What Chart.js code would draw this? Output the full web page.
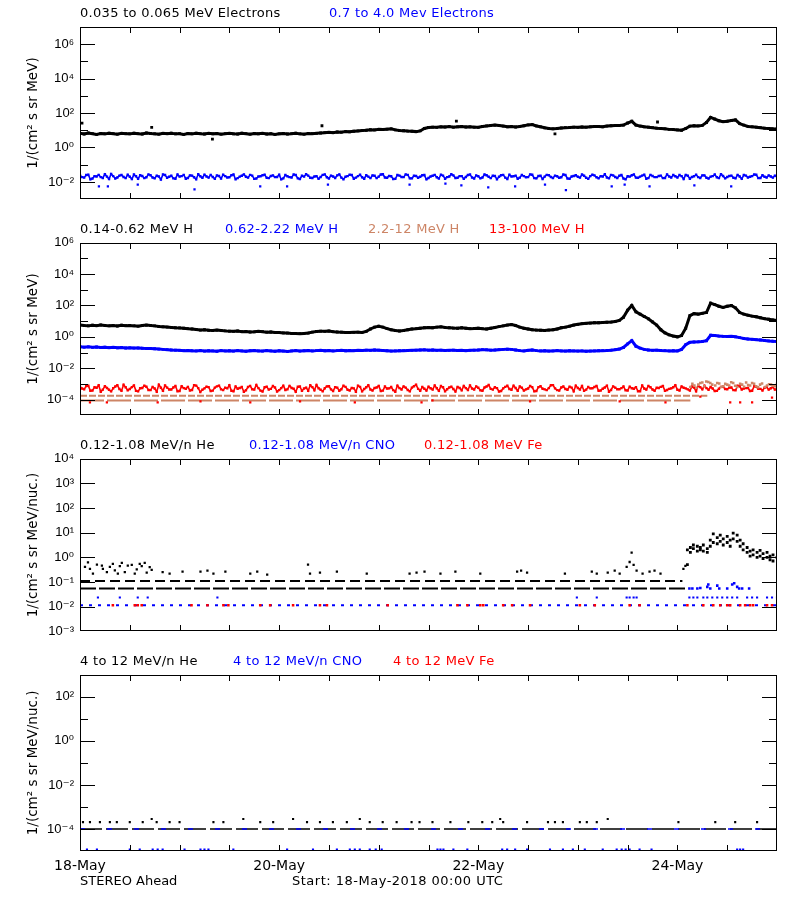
<!DOCTYPE html>
<html><head><meta charset="utf-8">
<script src="https://cdn.jsdelivr.net/npm/chart.js@4.4.1/dist/chart.umd.min.js"></script>
<style>
body{margin:0;background:#fff;width:800px;height:900px;position:relative;overflow:hidden;font-family:"DejaVu Sans",sans-serif}
canvas{position:absolute;left:0}
.t{position:absolute;font-size:13px;letter-spacing:0.3px;white-space:nowrap;line-height:16px;height:16px}
</style></head><body>
<canvas id="p1" width="800" height="200" style="top:13px"></canvas>
<canvas id="p2" width="800" height="200" style="top:229px"></canvas>
<canvas id="p3" width="800" height="200" style="top:445px"></canvas>
<canvas id="p4" width="800" height="220" style="top:661px"></canvas>

<div class="t" style="left:80px;top:5px;color:#000">0.035 to 0.065 MeV Electrons</div>
<div class="t" style="left:329px;top:5px;color:#0000ff">0.7 to 4.0 Mev Electrons</div>
<div class="t" style="left:80px;top:221px;color:#000">0.14-0.62 MeV H</div>
<div class="t" style="left:225px;top:221px;color:#0000ff">0.62-2.22 MeV H</div>
<div class="t" style="left:368px;top:221px;color:#cd8566">2.2-12 MeV H</div>
<div class="t" style="left:489px;top:221px;color:#ff0000">13-100 MeV H</div>
<div class="t" style="left:80px;top:437px;color:#000">0.12-1.08 MeV/n He</div>
<div class="t" style="left:249px;top:437px;color:#0000ff">0.12-1.08 MeV/n CNO</div>
<div class="t" style="left:424px;top:437px;color:#ff0000">0.12-1.08 MeV Fe</div>
<div class="t" style="left:80px;top:653px;color:#000">4 to 12 MeV/n He</div>
<div class="t" style="left:233px;top:653px;color:#0000ff">4 to 12 MeV/n CNO</div>
<div class="t" style="left:393px;top:653px;color:#ff0000">4 to 12 MeV Fe</div>
<div class="t" style="left:80px;top:873px;color:#000;letter-spacing:0">STEREO Ahead</div>
<div class="t" style="left:292px;top:873px;color:#000;letter-spacing:0.5px">Start: 18-May-2018 00:00 UTC</div>

<script>
// ---------- DATA (log10 values; hourly series start 18-May 00:00 UTC, "B" series are the half-hour samples) ----------
const dayLabelDays = [0, 2, 4, 6];
const dayLabels = ['18-May', '20-May', '22-May', '24-May'];
const xTickDays = [0.5,1,1.5,2,2.5,3,3.5,4,4.5,5,5.5,6,6.5];

// Panel 1: electrons
const eLowLog = [
0.82,0.78,0.84,0.80,0.76,0.81,0.79,0.83,0.80,0.77,0.82,0.80,
0.79,0.83,0.80,0.78,0.84,0.81,0.79,0.77,0.82,0.80,0.83,0.79,
0.80,0.76,0.81,0.79,0.83,0.80,0.78,0.82,0.79,0.81,0.77,0.80,
0.82,0.79,0.78,0.83,0.80,0.77,0.81,0.79,0.82,0.78,0.80,0.76,
0.79,0.81,0.78,0.80,0.83,0.79,0.77,0.81,0.80,0.82,0.84,0.86,
0.88,0.86,0.90,0.89,0.92,0.91,0.94,0.96,0.98,1.00,1.03,1.02,
1.05,1.04,1.06,1.08,1.02,0.98,0.97,0.95,0.94,0.92,0.96,1.10,
1.16,1.18,1.17,1.20,1.19,1.21,1.18,1.20,1.22,1.19,1.20,1.18,
1.17,1.22,1.25,1.28,1.30,1.27,1.24,1.20,1.21,1.19,1.22,1.26,
1.31,1.33,1.25,1.20,1.14,1.10,1.08,1.10,1.13,1.15,1.16,1.18,
1.17,1.19,1.18,1.20,1.21,1.22,1.20,1.24,1.26,1.27,1.28,1.30,
1.42,1.52,1.30,1.24,1.20,1.18,1.15,1.12,1.10,1.08,1.05,1.04,
1.02,1.00,1.10,1.24,1.26,1.25,1.28,1.45,1.75,1.65,1.55,1.50,
1.52,1.56,1.60,1.38,1.30,1.22,1.20,1.18,1.15,1.12,1.10,1.08,
1.07];
const eHighLog = [
-1.62,-1.75,-1.58,-1.80,-1.68,-1.72,-1.55,-1.83,-1.66,-1.74,-1.60,-1.78,
-1.70,-1.57,-1.82,-1.65,-1.73,-1.61,-1.79,-1.68,-1.56,-1.76,-1.64,-1.81,
-1.69,-1.59,-1.77,-1.63,-1.84,-1.67,-1.58,-1.75,-1.71,-1.62,-1.80,-1.66,
-1.73,-1.57,-1.78,-1.64,-1.70,-1.59,-1.82,-1.68,-1.61,-1.76,-1.65,-1.72,
-1.58,-1.79,-1.67,-1.74,-1.60,-1.83,-1.69,-1.63,-1.77,-1.66,-1.71,-1.56,
-1.80,-1.68,-1.62,-1.75,-1.70,-1.58,-1.81,-1.66,-1.73,-1.61,-1.78,-1.64,
-1.69,-1.55,-1.76,-1.67,-1.82,-1.63,-1.72,-1.59,-1.79,-1.65,-1.70,-1.60,
-1.77,-1.64,-1.73,-1.58,-1.81,-1.68,-1.62,-1.76,-1.66,-1.71,-1.57,-1.80,
-1.67,-1.74,-1.61,-1.78,-1.65,-1.70,-1.59,-1.83,-1.68,-1.63,-1.75,-1.66,
-1.72,-1.58,-1.79,-1.64,-1.69,-1.61,-1.77,-1.67,-1.73,-1.60,-1.81,-1.65,
-1.70,-1.57,-1.76,-1.66,-1.62,-1.79,-1.68,-1.74,-1.59,-1.71,-1.64,-1.80,
-1.67,-1.61,-1.75,-1.69,-1.58,-1.78,-1.65,-1.72,-1.63,-1.77,-1.68,-1.60,
-1.74,-1.66,-1.59,-1.81,-1.67,-1.72,-1.62,-1.76,-1.69,-1.57,-1.78,-1.65,
-1.71,-1.63,-1.79,-1.68,-1.60,-1.74,-1.66,-1.58,-1.77,-1.70,-1.62,-1.75,
-1.68];
const eHighLogB = [
-1.72,-1.60,-1.85,-1.66,-1.59,-1.77,-1.69,-1.54,-1.80,-1.63,-1.71,-1.58,
-1.83,-1.67,-1.61,-1.78,-1.56,-1.74,-1.64,-1.86,-1.60,-1.70,-1.79,-1.57,
-1.66,-1.81,-1.62,-1.73,-1.55,-1.76,-1.68,-1.59,-1.82,-1.65,-1.58,-1.74,
-1.61,-1.84,-1.69,-1.56,-1.75,-1.63,-1.80,-1.67,-1.58,-1.78,-1.62,-1.71,
-1.85,-1.60,-1.72,-1.57,-1.79,-1.64,-1.55,-1.76,-1.68,-1.82,-1.59,-1.73,
-1.63,-1.77,-1.56,-1.84,-1.66,-1.60,-1.75,-1.58,-1.81,-1.69,-1.62,-1.78,
-1.57,-1.74,-1.65,-1.83,-1.60,-1.71,-1.56,-1.79,-1.64,-1.76,-1.61,-1.85,
-1.68,-1.59,-1.80,-1.63,-1.72,-1.55,-1.77,-1.66,-1.82,-1.60,-1.74,-1.62,
-1.79,-1.57,-1.70,-1.64,-1.84,-1.61,-1.75,-1.58,-1.67,-1.81,-1.60,-1.73,
-1.56,-1.78,-1.65,-1.83,-1.59,-1.71,-1.63,-1.76,-1.57,-1.80,-1.68,-1.61,
-1.75,-1.64,-1.82,-1.58,-1.73,-1.66,-1.55,-1.79,-1.62,-1.77,-1.60,-1.84,
-1.69,-1.57,-1.76,-1.63,-1.81,-1.59,-1.72,-1.65,-1.78,-1.56,-1.74,-1.67,
-1.60,-1.83,-1.64,-1.71,-1.58,-1.77,-1.62,-1.80,-1.66,-1.73,-1.55,-1.79,
-1.65,-1.76,-1.59,-1.82,-1.63,-1.70,-1.57,-1.78,-1.61,-1.74,-1.68,-1.64];
const eLowOutliers = [[0.02,1.41],[0.72,1.17],[1.33,0.48],[2.43,1.26],[3.78,1.53],[4.77,0.79],[5.80,1.48]];
const eHighOutliers = [[0.19,-2.26],[0.28,-2.26],[0.58,-2.15],[1.15,-2.43],[1.81,-2.26],[2.08,-2.26],[2.49,-2.15],[3.31,-2.15],[3.67,-2.09],[3.83,-2.20],[4.10,-2.32],[4.37,-2.26],[4.67,-2.15],[4.88,-2.48],[5.34,-2.26],[5.47,-2.15],[5.72,-2.26],[6.17,-2.20],[6.54,-2.26]];

// Panel 2: protons
const h1Log = [
0.75,0.72,0.70,0.74,0.71,0.76,0.73,0.70,0.72,0.69,0.74,0.71,
0.73,0.70,0.68,0.72,0.75,0.73,0.70,0.66,0.64,0.62,0.60,0.58,
0.57,0.55,0.52,0.50,0.47,0.43,0.45,0.42,0.40,0.43,0.41,0.38,
0.36,0.35,0.37,0.33,0.34,0.31,0.32,0.35,0.33,0.30,0.31,0.28,
0.27,0.25,0.24,0.22,0.21,0.20,0.22,0.24,0.30,0.34,0.36,0.35,
0.37,0.33,0.31,0.30,0.28,0.27,0.29,0.30,0.28,0.35,0.50,0.62,
0.68,0.62,0.52,0.45,0.40,0.37,0.40,0.45,0.50,0.52,0.55,0.58,
0.60,0.58,0.62,0.64,0.60,0.58,0.56,0.55,0.58,0.55,0.52,0.53,
0.55,0.52,0.50,0.55,0.60,0.65,0.70,0.75,0.78,0.72,0.62,0.55,
0.50,0.45,0.43,0.42,0.40,0.43,0.45,0.50,0.58,0.62,0.68,0.75,
0.80,0.84,0.86,0.88,0.90,0.90,0.92,0.93,0.94,0.98,1.05,1.25,
1.70,2.00,1.60,1.45,1.30,1.15,0.95,0.75,0.45,0.25,0.12,0.05,
0.00,0.08,0.55,1.35,1.48,1.45,1.50,1.55,2.15,2.05,1.95,1.88,
1.95,2.00,1.85,1.55,1.45,1.38,1.32,1.28,1.22,1.16,1.12,1.08,
1.04];
const h2Log = [
-0.63,-0.66,-0.64,-0.67,-0.65,-0.68,-0.66,-0.69,-0.67,-0.70,-0.68,-0.71,
-0.70,-0.72,-0.71,-0.73,-0.74,-0.75,-0.76,-0.78,-0.80,-0.82,-0.84,-0.85,
-0.86,-0.88,-0.87,-0.89,-0.90,-0.88,-0.91,-0.89,-0.90,-0.92,-0.88,-0.90,
-0.89,-0.91,-0.88,-0.90,-0.92,-0.89,-0.87,-0.90,-0.91,-0.88,-0.90,-0.92,
-0.89,-0.91,-0.93,-0.90,-0.88,-0.91,-0.89,-0.87,-0.90,-0.88,-0.86,-0.89,
-0.87,-0.90,-0.88,-0.86,-0.89,-0.87,-0.88,-0.86,-0.87,-0.85,-0.86,-0.84,
-0.85,-0.87,-0.89,-0.91,-0.90,-0.89,-0.88,-0.87,-0.86,-0.85,-0.84,-0.83,
-0.85,-0.84,-0.86,-0.85,-0.87,-0.86,-0.85,-0.87,-0.86,-0.88,-0.86,-0.85,
-0.84,-0.82,-0.83,-0.85,-0.84,-0.82,-0.80,-0.79,-0.80,-0.84,-0.88,-0.90,
-0.86,-0.84,-0.88,-0.90,-0.89,-0.91,-0.90,-0.88,-0.90,-0.91,-0.89,-0.90,
-0.91,-0.90,-0.92,-0.91,-0.90,-0.89,-0.88,-0.87,-0.85,-0.82,-0.78,-0.68,
-0.45,-0.24,-0.60,-0.72,-0.80,-0.84,-0.86,-0.85,-0.87,-0.88,-0.90,-0.89,
-0.90,-0.80,-0.50,-0.35,-0.33,-0.32,-0.30,-0.25,0.10,0.08,0.05,0.03,
0.02,0.03,0.00,-0.05,-0.10,-0.14,-0.16,-0.18,-0.20,-0.23,-0.26,-0.28,
-0.29];
const h4Log = [
-3.20,-3.35,-3.12,-3.42,-3.25,-3.50,-3.15,-3.38,-3.28,-3.08,-3.45,-3.22,
-3.33,-3.10,-3.48,-3.26,-3.18,-3.40,-3.30,-3.05,-3.44,-3.24,-3.36,-3.14,
-3.46,-3.27,-3.19,-3.39,-3.11,-3.52,-3.29,-3.21,-3.43,-3.16,-3.34,-3.25,
-3.09,-3.47,-3.31,-3.20,-3.41,-3.13,-3.37,-3.27,-3.49,-3.18,-3.32,-3.23,
-3.40,-3.12,-3.35,-3.26,-3.51,-3.17,-3.30,-3.44,-3.21,-3.07,-3.38,-3.28,
-3.15,-3.46,-3.24,-3.34,-3.19,-3.42,-3.29,-3.11,-3.48,-3.22,-3.36,-3.26,
-3.13,-3.43,-3.30,-3.20,-3.50,-3.27,-3.16,-3.39,-3.24,-3.06,-3.45,-3.31,
-3.18,-3.37,-3.28,-3.14,-3.47,-3.23,-3.33,-3.19,-3.41,-3.27,-3.10,-3.36,
-3.25,-3.44,-3.17,-3.32,-3.22,-3.49,-3.29,-3.12,-3.38,-3.26,-3.16,-3.43,
-3.30,-3.21,-3.46,-3.15,-3.35,-3.27,-3.08,-3.40,-3.23,-3.33,-3.18,-3.48,
-3.26,-3.14,-3.37,-3.29,-3.20,-3.44,-3.31,-3.11,-3.39,-3.24,-3.34,-3.17,
-3.42,-3.28,-3.21,-3.47,-3.30,-3.13,-3.36,-3.25,-3.19,-3.45,-3.32,-3.22,
-3.38,-3.16,-3.29,-3.43,-3.24,-3.12,-3.35,-3.27,-3.20,-3.46,-3.31,-3.18,
-3.34,-3.23,-3.41,-3.15,-3.30,-3.26,-3.44,-3.19,-3.32,-3.25,-3.37,-3.21,
-3.29];
const h4LogB = [
-3.30,-3.14,-3.44,-3.22,-3.09,-3.37,-3.26,-3.48,-3.17,-3.33,-3.06,-3.41,
-3.21,-3.45,-3.28,-3.12,-3.39,-3.19,-3.50,-3.25,-3.10,-3.36,-3.23,-3.47,
-3.15,-3.32,-3.42,-3.08,-3.27,-3.38,-3.18,-3.46,-3.24,-3.11,-3.40,-3.29,
-3.44,-3.16,-3.26,-3.51,-3.20,-3.34,-3.07,-3.43,-3.22,-3.37,-3.14,-3.49,
-3.27,-3.39,-3.13,-3.31,-3.18,-3.45,-3.24,-3.09,-3.41,-3.28,-3.47,-3.16,
-3.35,-3.21,-3.44,-3.12,-3.38,-3.26,-3.50,-3.19,-3.33,-3.08,-3.42,-3.23,
-3.46,-3.17,-3.29,-3.40,-3.11,-3.36,-3.24,-3.48,-3.15,-3.32,-3.20,-3.43,
-3.28,-3.10,-3.45,-3.22,-3.34,-3.18,-3.49,-3.26,-3.13,-3.39,-3.30,-3.16,
-3.41,-3.23,-3.07,-3.37,-3.27,-3.46,-3.19,-3.33,-3.12,-3.44,-3.25,-3.35,
-3.14,-3.48,-3.21,-3.31,-3.40,-3.09,-3.29,-3.43,-3.17,-3.38,-3.24,-3.11,
-3.36,-3.45,-3.20,-3.28,-3.13,-3.42,-3.23,-3.50,-3.16,-3.34,-3.27,-3.41,
-3.18,-3.31,-3.47,-3.10,-3.37,-3.22,-3.44,-3.26,-3.14,-3.39,-3.29,-3.08,
-3.43,-3.25,-3.35,-3.17,-3.48,-3.21,-3.11,-3.38,-3.30,-3.45,-3.19,-3.33,
-3.24,-3.40,-3.12,-3.36,-3.27,-3.46,-3.15,-3.32,-3.42,-3.20,-3.28,-3.37];
const h4Outliers = [[0.10,-4.18],[0.27,-4.18],[0.78,-4.18],[1.21,-4.12],[1.71,-4.18],[2.21,-4.12],[2.76,-4.18],[3.43,-4.18],[3.54,-4.06],[4.52,-4.12],[5.42,-4.12],[5.88,-4.18],[6.23,-3.82],[6.53,-4.18],[6.63,-4.18],[6.75,-4.18],[6.95,-3.88]];
const h3RowUpper = {log: -3.76, from: 0, to: 6.30};
const h3RowLower = {log: -4.06, from: 0, to: 6.13};
const h3Late = [[6.13,-3.20],[6.17,-3.10],[6.21,-3.05],[6.25,-2.92],[6.29,-2.85],[6.33,-2.95],[6.38,-3.10],[6.42,-2.98],[6.46,-3.15],[6.50,-3.05],[6.54,-2.90],[6.58,-3.12],[6.63,-3.00],[6.67,-3.18],[6.71,-3.08],[6.75,-2.95],[6.79,-3.15],[6.83,-3.05],[6.88,-3.20],[6.92,-3.02],[6.96,-3.12],[7.00,-3.00],
[6.15,-3.00],[6.19,-3.25],[6.23,-2.95],[6.27,-3.15],[6.31,-2.88],[6.35,-3.05],[6.40,-2.95],[6.44,-3.20],[6.48,-3.00],[6.52,-3.10],[6.56,-2.95],[6.60,-3.20],[6.65,-3.05],[6.69,-2.92],[6.73,-3.10],[6.77,-3.00],[6.81,-3.22],[6.85,-2.98],[6.90,-3.10],[6.94,-3.05],[6.98,-3.15]];

// Panel 3: 0.12-1.08 MeV/n ions
const heRowUpper = {log: -0.96, from: 0, to: 6.05};
const heRowLower = {log: -1.27, from: 0, to: 6.08};
const heScatter = [[0.05,-0.39],[0.08,-0.21],[0.10,-0.47],[0.13,-0.66],[0.17,-0.30],[0.22,-0.34],[0.23,-0.47],[0.27,-0.60],[0.30,-0.39],[0.33,-0.27],[0.35,-0.53],[0.38,-0.66],[0.40,-0.36],[0.42,-0.23],[0.45,-0.60],[0.48,-0.34],[0.52,-0.31],[0.55,-0.66],[0.57,-0.49],[0.60,-0.27],[0.62,-0.36],[0.65,-0.23],[0.67,-0.62],[0.70,-0.40],[0.72,-0.51],
[0.83,-0.60],[0.90,-0.66],[1.03,-0.58],[1.21,-0.58],[1.28,-0.54],[1.34,-0.66],[1.46,-0.58],[1.71,-0.66],[1.78,-0.58],[1.88,-0.70],[2.29,-0.30],[2.31,-0.66],[2.41,-0.62],[2.58,-0.58],[2.88,-0.66],[3.31,-0.66],[3.38,-0.62],[3.46,-0.58],[3.62,-0.66],[3.77,-0.58],[4.02,-0.66],[4.39,-0.58],[4.43,-0.54],[4.49,-0.62],[4.87,-0.66],[5.14,-0.58],[5.19,-0.66],[5.30,-0.62],[5.37,-0.54],[5.42,-0.66],[5.49,-0.39],[5.52,-0.19],[5.54,0.19],[5.56,-0.31],[5.59,-0.54],[5.65,-0.66],[5.72,-0.58],[5.77,-0.54],[5.83,-0.66],[6.06,-0.47],[6.08,-0.35]];
const heEvent = [[6.10,0.30],[6.10,-0.30],[6.13,0.40],[6.13,0.20],[6.16,0.35],[6.16,0.50],[6.20,0.45],[6.20,0.25],[6.23,0.30],[6.23,0.40],[6.26,0.50],[6.26,0.25],[6.30,0.35],[6.30,0.20],[6.33,0.70],[6.33,0.45],[6.36,0.95],[6.36,0.60],[6.40,0.80],[6.40,0.55],[6.43,0.65],[6.43,0.90],[6.46,0.50],[6.46,0.75],[6.50,0.85],[6.50,0.60],[6.53,0.70],[6.53,0.45],[6.56,0.98],[6.56,0.75],[6.60,0.90],[6.60,0.65],[6.63,0.70],[6.63,0.45],[6.66,0.55],[6.66,0.30],[6.70,0.40],[6.70,0.20],[6.73,0.25],[6.73,0.05],[6.76,0.30],[6.76,0.10],[6.80,0.20],[6.80,0.00],[6.83,0.28],[6.83,0.05],[6.86,0.15],[6.86,-0.05],[6.90,0.20],[6.90,0.00],[6.93,0.05],[6.93,-0.10],[6.96,0.10],[6.96,-0.15],[7.00,0.00]];
const cnoRow = {log: -1.95, from: 0, to: 7};
const cnoUpperLog = -1.63;
const cnoUpperDays = [0.18,0.40,0.58,0.68,1.38,4.99,5.19,5.49,5.52,5.56,5.59,6.12,6.16,6.20,6.26,6.30,6.35,6.40,6.45,6.50,6.55,6.60,6.70,6.75,6.80,6.90,6.95,7.00];
const cnoEvent = [[6.12,-1.27],[6.15,-1.27],[6.20,-1.27],[6.23,-1.25],[6.30,-1.20],[6.31,-1.10],[6.33,-1.27],[6.40,-1.15],[6.42,-1.27],[6.50,-1.27],[6.55,-1.10],[6.57,-1.05],[6.60,-1.20],[6.62,-1.27],[6.65,-1.27],[6.72,-1.27]];
const feLog = -1.95;
const feDays = [0.33,0.55,0.58,0.62,1.12,1.28,1.44,1.49,1.81,1.91,2.14,2.41,2.48,3.09,3.79,3.89,4.02,4.05,4.25,4.34,4.52,5.02,5.17,5.52,5.62,6.10,6.26,6.36,6.43,6.50,6.53,6.63,6.68,6.73,6.76,6.90,6.95];

// Panel 4: 4-12 MeV/n ions
const he4Row = {log: -4.0, from: 0, to: 7};
const he4DotLog = -3.69;
const he4DotDays = [0.03,0.10,0.20,0.30,0.37,0.50,0.63,0.77,0.90,1.00,1.34,1.44,1.81,1.94,2.28,2.41,2.54,2.68,2.91,3.04,3.18,3.33,3.41,3.54,3.72,3.90,4.04,4.14,4.25,4.49,4.70,4.77,4.85,5.02,5.09,5.19,6.01,6.38,6.58,6.80];
const he4HighLog = -3.55;
const he4HighDays = [0.72,1.64,2.14,2.81,4.22,5.30];
const cno4LowLog = -4.93;
const cno4LowDays = [0.07,0.17,0.50,0.60,0.73,0.78,0.83,1.05,1.21,1.25,1.29,1.54,2.08,2.34,2.58,2.71,2.76,2.81,2.91,2.97,3.03,3.59,3.62,3.65,3.75,3.89,4.24,4.29,4.37,4.49,4.72,4.85,4.95,5.07,5.25,5.39,5.44,5.48,5.52,5.62,5.74,6.60,6.63,6.66];

// ---------- helpers ----------
const BLACK = '#000000', BLUE = '#0000ff', RED = '#ff0000', BROWN = '#cd8566';
const FONT_TXT = '"DejaVu Sans", sans-serif';
const FONT_TICK = '"Liberation Sans", "DejaVu Sans", sans-serif';
const SUP = {'-':'⁻','0':'⁰','1':'¹','2':'²','3':'³','4':'⁴','5':'⁵','6':'⁶','7':'⁷','8':'⁸','9':'⁹'};
const supLabel = e => '10' + String(e).split('').map(c => SUP[c]).join('');
const hourly = arr => arr.map((v, i) => ({x: i / 24, y: Math.pow(10, v)}));
// merge hourly samples (a) with half-hour samples (b) into one time-ordered series
const interleave = (a, b) => {
  const out = [];
  a.forEach((v, i) => {
    out.push({x: i / 24, y: Math.pow(10, v)});
    if (i < b.length) out.push({x: (i + 0.5) / 24, y: Math.pow(10, b[i])});
  });
  return out;
};
const pairs = arr => arr.map(([d, v]) => ({x: d, y: Math.pow(10, v)}));
const atLevel = (days, lv) => days.map(d => ({x: d, y: Math.pow(10, lv)}));
const rowLine = r => [{x: r.from, y: Math.pow(10, r.log)}, {x: r.to, y: Math.pow(10, r.log)}];

function pts(data, color, r) {
  return {data, backgroundColor: color, borderColor: color, pointStyle: 'rect', pointRadius: r, pointHoverRadius: r, pointBorderWidth: 0, showLine: false};
}
function band(data, color, r, w) {
  return {data, backgroundColor: color, borderColor: color, pointStyle: 'rect', pointRadius: r, pointHoverRadius: r, pointBorderWidth: 0, showLine: true, borderWidth: w, tension: 0};
}
function dashed(data, color, w, dash) {
  return {data, backgroundColor: color, borderColor: color, borderWidth: w, borderDash: dash, pointRadius: 0, showLine: true, borderCapStyle: 'butt'};
}

const idlFrame = {
  id: 'idlFrame',
  afterDatasetsDraw(chart, args, opts) {
    const {ctx, chartArea: a, scales: {x, y}} = chart;
    const L = Math.round(a.left), R = Math.round(a.right) - 1, T = Math.round(a.top), B = Math.round(a.bottom) - 1;
    ctx.save();
    ctx.fillStyle = '#000';
    ctx.fillRect(L, T, R - L + 1, 1);
    ctx.fillRect(L, B, R - L + 1, 1);
    ctx.fillRect(L, T, 1, B - T + 1);
    ctx.fillRect(R, T, 1, B - T + 1);
    const yTick = (e, len) => {
      const py = Math.round(y.getPixelForValue(Math.pow(10, e)));
      if (py <= T + 1 || py >= B - 1) return;
      ctx.fillRect(L, py, len, 1);
      ctx.fillRect(R - len + 1, py, len, 1);
    };
    opts.major.forEach(e => yTick(e, 15));
    opts.minor.forEach(e => yTick(e, 8));
    xTickDays.forEach(d => {
      const px = Math.round(x.getPixelForValue(d));
      ctx.fillRect(px, B - 5, 1, 5);
      ctx.fillRect(px, T + 1, 1, 5);
    });
    ctx.restore();
  }
};

function makePanel(id, cfg) {
  new Chart(document.getElementById(id), {
    type: 'scatter',
    data: {datasets: cfg.datasets},
    options: {
      responsive: false, animation: false, events: [],
      layout: {padding: {top: 10, right: 23, left: 0, bottom: cfg.padB}},
      plugins: {legend: {display: false}, tooltip: {enabled: false}, idlFrame: {major: cfg.major, minor: cfg.minor}},
      scales: {
        x: {
          type: 'linear', min: 0, max: 7, display: cfg.showX,
          grid: {display: false, drawTicks: false}, border: {display: false},
          afterBuildTicks: s => { s.ticks = dayLabelDays.map(v => ({value: v})); },
          ticks: {callback: v => dayLabels[dayLabelDays.indexOf(v)], font: {size: 14, family: FONT_TXT}, color: '#000', padding: 7, maxRotation: 0, autoSkip: false},
          afterFit: s => { s.height = cfg.showX ? 30 : 0; }
        },
        y: {
          type: 'logarithmic', min: Math.pow(10, cfg.lo), max: Math.pow(10, cfg.hi),
          grid: {display: false, drawTicks: false}, border: {display: false},
          afterBuildTicks: s => { s.ticks = cfg.labels.slice().sort((p, q) => p - q).map(e => ({value: Math.pow(10, e)})); },
          ticks: {callback: v => supLabel(Math.round(Math.log10(v))), font: {size: 13, family: FONT_TICK}, color: '#000', padding: 6, autoSkip: false},
          title: {display: true, text: cfg.ytitle, font: {size: 13.5, family: FONT_TXT}, color: '#000', padding: {top: 25, bottom: 0}},
          afterFit: s => { s.width = 80; }
        }
      }
    },
    plugins: [idlFrame]
  });
}

makePanel('p1', {
  lo: -3, hi: 7, labels: [6, 4, 2, 0, -2], major: [6, 4, 2, 0, -2], minor: [5, 3, 1, -1],
  ytitle: '1/(cm² s sr MeV)', showX: false, padB: 10,
  datasets: [
    pts(pairs(eLowOutliers), BLACK, 2),
    band(hourly(eLowLog), BLACK, 2, 3),
    pts(pairs(eHighOutliers), BLUE, 1.6),
    band(interleave(eHighLog, eHighLogB), BLUE, 1.7, 1.6)
  ]
});

makePanel('p2', {
  lo: -5, hi: 6, labels: [6, 4, 2, 0, -2, -4], major: [6, 4, 2, 0, -2, -4], minor: [5, 3, 1, -1, -3],
  ytitle: '1/(cm² s sr MeV)', showX: false, padB: 10,
  datasets: [
    band(hourly(h1Log), BLACK, 2, 3),
    band(hourly(h2Log), BLUE, 2, 3),
    pts(pairs(h3Late), BROWN, 1.8),
    pts(pairs(h4Outliers), RED, 1.6),
    band(interleave(h4Log, h4LogB), RED, 1.7, 1.6),
    dashed(rowLine(h3RowUpper), BROWN, 2, [7, 2]),
    dashed(rowLine(h3RowLower), BROWN, 2, [24, 3])
  ]
});

makePanel('p3', {
  lo: -3, hi: 4, labels: [4, 3, 2, 1, 0, -1, -2, -3], major: [3, 2, 1, 0, -1, -2], minor: [],
  ytitle: '1/(cm² s sr MeV/nuc.)', showX: false, padB: 10,
  datasets: [
    pts(pairs(heEvent), BLACK, 2),
    pts(pairs(heScatter), BLACK, 1.6),
    dashed(rowLine(heRowUpper), BLACK, 2, [10, 5]),
    dashed(rowLine(heRowLower), BLACK, 2, [16, 3]),
    pts(atLevel(feDays, feLog), RED, 1.8),
    pts(pairs(cnoEvent), BLUE, 1.8),
    pts(atLevel(cnoUpperDays, cnoUpperLog), BLUE, 1.5),
    dashed(rowLine(cnoRow), BLUE, 2, [3, 6])
  ]
});

makePanel('p4', {
  lo: -5, hi: 3, labels: [2, 0, -2, -4], major: [2, 0, -2, -4], minor: [1, -1, -3],
  ytitle: '1/(cm² s sr MeV/nuc.)', showX: true, padB: 0,
  datasets: [
    pts(atLevel(he4DotDays, he4DotLog), BLACK, 1.5),
    pts(atLevel(he4HighDays, he4HighLog), BLACK, 1.5),
    dashed(rowLine(he4Row), BLUE, 1.5, [5, 22]),
    dashed(rowLine(he4Row), BLACK, 1.5, [22, 4]),
    pts(atLevel(cno4LowDays, cno4LowLog), BLUE, 1.5)
  ]
});
</script>
</body></html>
